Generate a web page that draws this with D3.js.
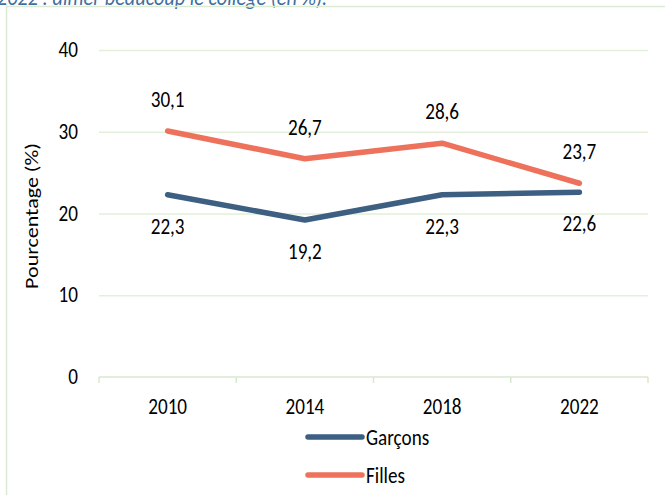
<!DOCTYPE html>
<html>
<head>
<meta charset="utf-8">
<script src="https://cdn.jsdelivr.net/npm/d3@7.9.0/dist/d3.min.js"></script>
<style>
  body { margin: 0; background: #fff; }
  svg { display: block; font-family: Carlito, 'Open Sans', sans-serif; }
</style>
</head>
<body>
<div id="chart"></div>
<script>
const years = ['2010', '2014', '2018', '2022'];
const garcons = [22.3, 19.2, 22.3, 22.6];
const filles = [30.1, 26.7, 28.6, 23.7];
const yTicks = [0, 10, 20, 30, 40];

const series = [
  { name: 'Garçons', values: garcons, color: '#3d5f82', labelDy: 39 },
  { name: 'Filles', values: filles, color: '#ee715c', labelDy: -24 },
];

const width = 665;
const height = 495;
const fs = '22px';
const sx = 0.87; // the picture's text is a bit narrow

const svg = d3.select('#chart')
  .append('svg')
  .attr('width', width)
  .attr('height', height);

const at = (x, y) => `translate(${x},${y}) scale(${sx},1)`;

// title, cut off at the top
svg.append('text')
  .attr('transform', `translate(-3,5) scale(0.92,1)`)
  .attr('fill', '#3f6f9f')
  .style('font-style', 'italic')
  .style('font-size', '22px')
  .text('2022 : aimer beaucoup le collège (en %).');

// frame
svg.append('path')
  .attr('d', `M6.5,${height} V6.5 H${width}`)
  .attr('fill', 'none')
  .attr('stroke', '#dcebd4')
  .attr('stroke-width', 1.5);

const xScale = d3.scaleBand().domain(years).range([99, 648]);
const yScale = d3.scaleLinear().domain([0, 40]).range([377, 50]);
const cx = (i) => xScale(years[i]) + xScale.bandwidth() / 2;

// gridlines
svg.append('g')
  .attr('class', 'gridlines')
  .attr('transform', 'translate(99, 0)')
  .call(d3.axisLeft(yScale).tickValues(yTicks.slice(1)).tickFormat('').tickSize(-549))
  .call((g) => g.select('.domain').remove())
  .call((g) => g.selectAll('line').attr('stroke', '#e2efd9').attr('stroke-width', 1.5));

// y labels
svg.append('g')
  .selectAll('text')
  .data(yTicks)
  .join('text')
  .attr('transform', (d) => at(78, yScale(d) + 7))
  .attr('text-anchor', 'end')
  .style('font-size', fs)
  .text((d) => d);

// x axis with ticks between categories
const xAxisG = svg.append('g').attr('transform', 'translate(0, 377)');
xAxisG.append('line')
  .attr('x1', 99).attr('x2', 648)
  .attr('stroke', '#d8e8cf').attr('stroke-width', 1.5);
xAxisG.selectAll('line.tick')
  .data(years.concat(['end']))
  .join('line')
  .attr('class', 'tick')
  .attr('x1', (d, i) => i < years.length ? xScale(d) : xScale(years[years.length - 1]) + xScale.bandwidth())
  .attr('x2', (d, i) => i < years.length ? xScale(d) : xScale(years[years.length - 1]) + xScale.bandwidth())
  .attr('y1', 0).attr('y2', 6)
  .attr('stroke', '#d8e8cf').attr('stroke-width', 1.5);
xAxisG.selectAll('text')
  .data(years)
  .join('text')
  .attr('transform', (d, i) => at(cx(i), 37))
  .attr('text-anchor', 'middle')
  .style('font-size', fs)
  .text((d) => d);

// y axis title
svg.append('text')
  .attr('transform', `translate(38, 216) scale(${sx},1) rotate(-90)`)
  .attr('text-anchor', 'middle')
  .style('font-size', fs)
  .text('Pourcentage (%)');

const line = d3.line()
  .x((d, i) => cx(i))
  .y((d) => yScale(d));

series.forEach((s) => {
  svg.append('path')
    .datum(s.values)
    .attr('d', line)
    .attr('fill', 'none')
    .attr('stroke', s.color)
    .attr('stroke-width', 5.5)
    .attr('stroke-linejoin', 'round')
    .attr('stroke-linecap', 'round');

  svg.append('g')
    .selectAll('text')
    .data(s.values)
    .join('text')
    .attr('transform', (d, i) => at(cx(i), yScale(d) + s.labelDy))
    .attr('text-anchor', 'middle')
    .style('font-size', fs)
    .text((d) => String(d).replace('.', ','));
});

// legend
const legend = svg.append('g')
  .selectAll('g')
  .data(series)
  .join('g')
  .attr('transform', (d, i) => `translate(308, ${437 + i * 38})`);
legend.append('line')
  .attr('x1', 0).attr('x2', 54)
  .attr('stroke', (d) => d.color)
  .attr('stroke-width', 5.5)
  .attr('stroke-linecap', 'round');
legend.append('text')
  .attr('transform', at(58, 8))
  .style('font-size', fs)
  .text((d) => d.name);
</script>
</body>
</html>
